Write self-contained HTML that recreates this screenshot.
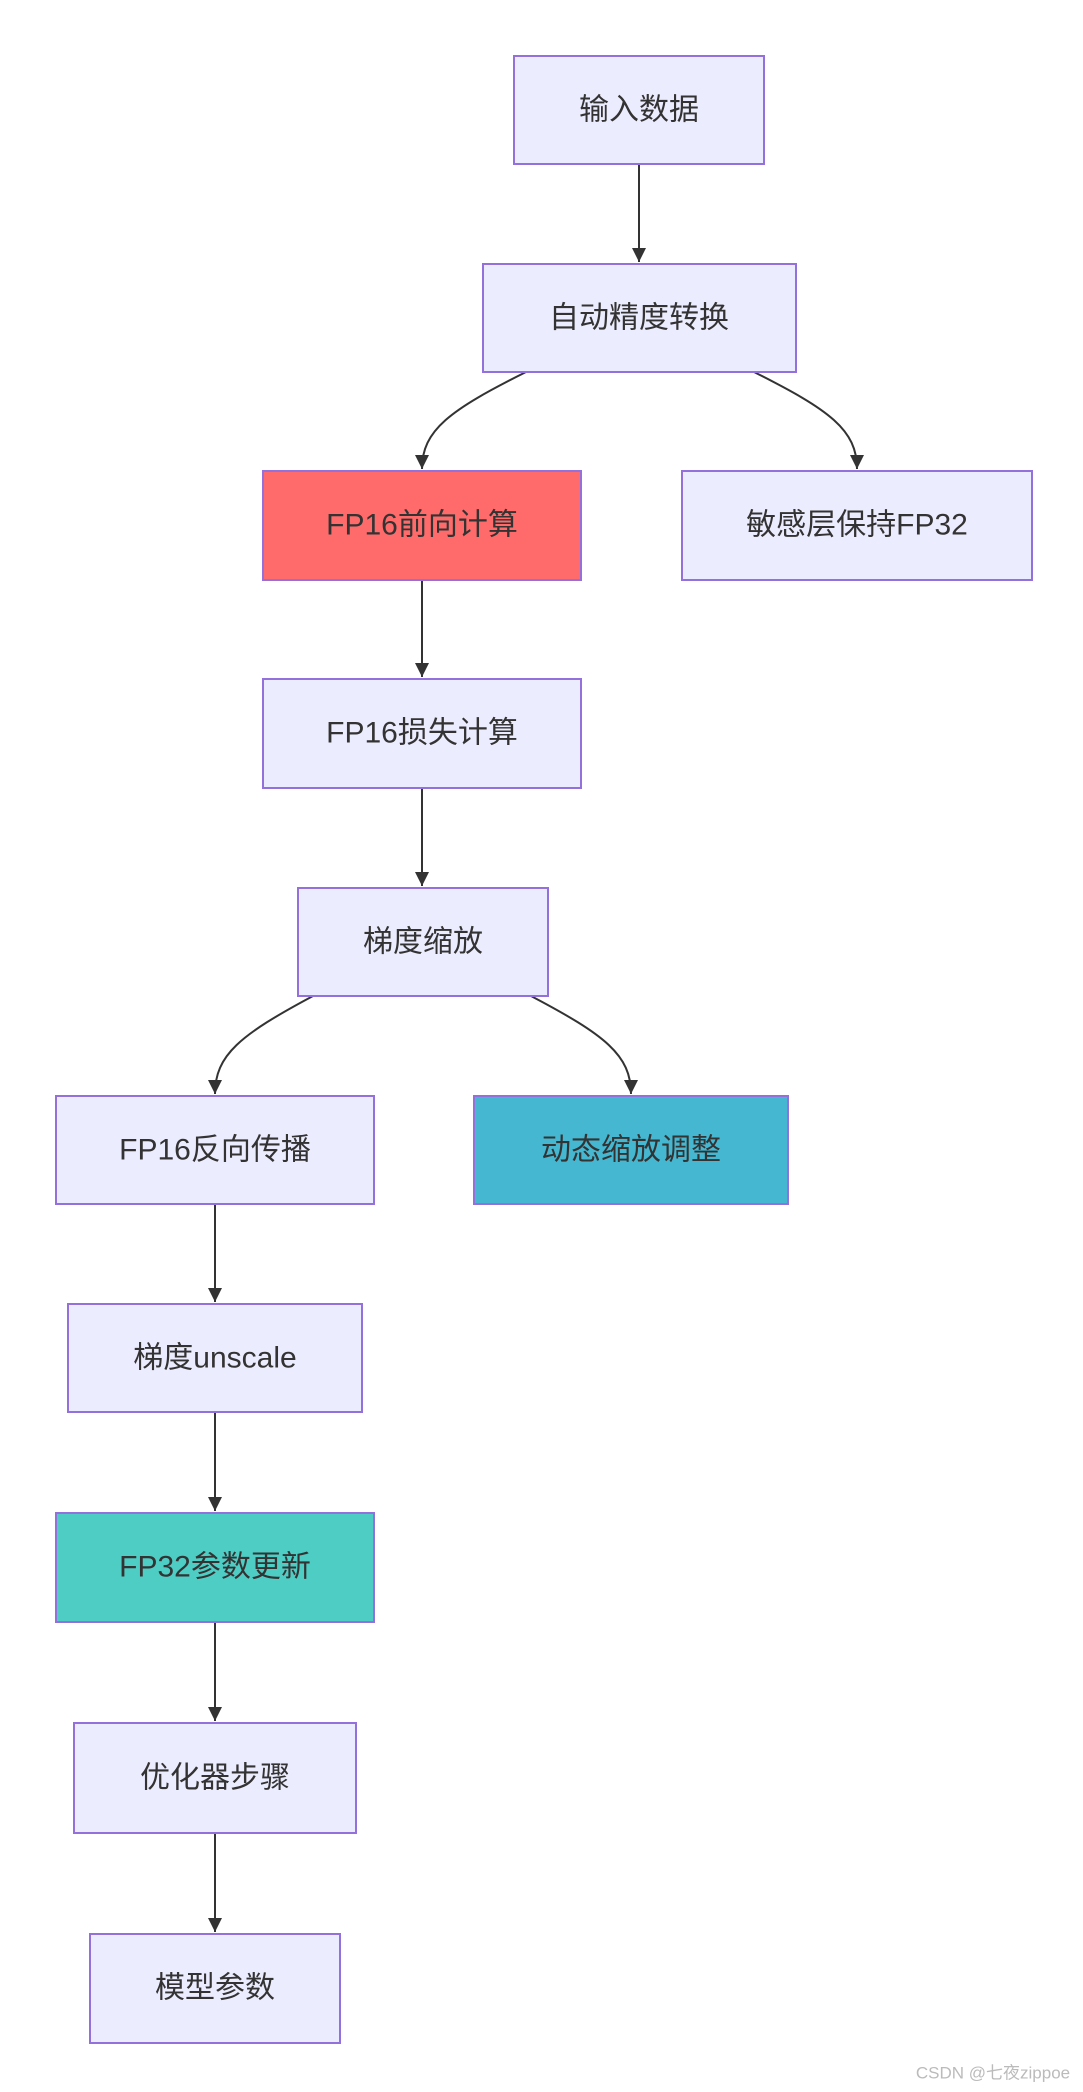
<!DOCTYPE html>
<html><head><meta charset="utf-8"><style>
html,body{margin:0;padding:0;background:#fff;}
svg{display:block;}
text{font-family:"Liberation Sans","Noto Sans CJK SC",sans-serif;fill:#333;font-size:30px;text-anchor:middle;dominant-baseline:central;}
.n{fill:#ECECFF;stroke:#9370DB;stroke-width:2;}
.e{fill:none;stroke:#333;stroke-width:2;}
</style></head><body>
<svg width="1083" height="2092" viewBox="0 0 1083 2092" xmlns="http://www.w3.org/2000/svg">
<defs><marker id="a" viewBox="0 0 10 10" refX="9" refY="5" markerWidth="8" markerHeight="8" markerUnits="userSpaceOnUse" orient="auto"><path d="M0,0L10,5L0,10z" fill="#333"/></marker>
<marker id="b" viewBox="0 0 10 10" refX="10" refY="5" markerWidth="18" markerHeight="14" markerUnits="userSpaceOnUse" orient="auto"><path d="M0,0L10,5L0,10z" fill="#333"/></marker></defs>
<!-- edges -->
<path class="e" d="M639,164V262" marker-end="url(#b)"/>
<path class="e" d="M526,372C450,410 422,430 422,469" marker-end="url(#b)"/>
<path class="e" d="M754,372C830,410 857,430 857,469" marker-end="url(#b)"/>
<path class="e" d="M422,580V677" marker-end="url(#b)"/>
<path class="e" d="M422,788V886" marker-end="url(#b)"/>
<path class="e" d="M313,996C240,1035 215,1055 215,1094" marker-end="url(#b)"/>
<path class="e" d="M531,996C605,1035 631,1055 631,1094" marker-end="url(#b)"/>
<path class="e" d="M215,1204V1302" marker-end="url(#b)"/>
<path class="e" d="M215,1412V1511" marker-end="url(#b)"/>
<path class="e" d="M215,1622V1721" marker-end="url(#b)"/>
<path class="e" d="M215,1833V1932" marker-end="url(#b)"/>
<!-- nodes -->
<rect class="n" x="514" y="56" width="250" height="108"/><text x="639" y="110">输入数据</text>
<rect class="n" x="483" y="264" width="313" height="108"/><text x="639" y="318">自动精度转换</text>
<rect class="n" x="263" y="471" width="318" height="109" style="fill:#FF6B6B"/><text x="422" y="525">FP16前向计算</text>
<rect class="n" x="682" y="471" width="350" height="109"/><text x="857" y="525">敏感层保持FP32</text>
<rect class="n" x="263" y="679" width="318" height="109"/><text x="422" y="733">FP16损失计算</text>
<rect class="n" x="298" y="888" width="250" height="108"/><text x="423" y="942">梯度缩放</text>
<rect class="n" x="56" y="1096" width="318" height="108"/><text x="215" y="1150">FP16反向传播</text>
<rect class="n" x="474" y="1096" width="314" height="108" style="fill:#45B7D1"/><text x="631" y="1150">动态缩放调整</text>
<rect class="n" x="68" y="1304" width="294" height="108"/><text x="215" y="1358">梯度unscale</text>
<rect class="n" x="56" y="1513" width="318" height="109" style="fill:#4ECDC4"/><text x="215" y="1567">FP32参数更新</text>
<rect class="n" x="74" y="1723" width="282" height="110"/><text x="215" y="1778">优化器步骤</text>
<rect class="n" x="90" y="1934" width="250" height="109"/><text x="215" y="1988">模型参数</text>
<text x="993" y="2073" style="font-size:17px;fill:#bbb;">CSDN @七夜zippoe</text>
</svg>
</body></html>
